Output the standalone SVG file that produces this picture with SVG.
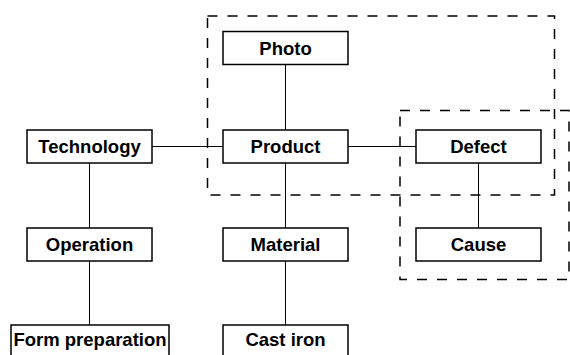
<svg xmlns="http://www.w3.org/2000/svg" width="570" height="355" viewBox="0 0 570 355">
  <style>
    .box { fill: #ffffff; stroke: #000000; stroke-width: 1.5; }
    .label { font-family: "Liberation Sans", Arial, sans-serif; font-size: 18.5px; font-weight: bold; fill: #000000; text-anchor: middle; }
    .link { stroke: #000000; stroke-width: 1; fill: none; }
    .group { stroke: #000000; stroke-width: 1.5; fill: none; stroke-dasharray: 10 10; }
  </style>
  <rect width="570" height="355" fill="#ffffff"/>

  <!-- grouping frames -->
  <g id="frames">
    <rect class="group" x="207.5" y="16" width="347" height="179"/>
    <rect class="group" x="400" y="110.5" width="169" height="169"/>
  </g>

  <!-- connectors -->
  <g id="connectors">
    <line class="link" x1="152" y1="146.5" x2="223" y2="146.5"/>
    <line class="link" x1="348" y1="146.5" x2="416" y2="146.5"/>
    <line class="link" x1="285.5" y1="64" x2="285.5" y2="130"/>
    <line class="link" x1="285.5" y1="163" x2="285.5" y2="228"/>
    <line class="link" x1="285.5" y1="261" x2="285.5" y2="325"/>
    <line class="link" x1="89.5" y1="163" x2="89.5" y2="228"/>
    <line class="link" x1="89.5" y1="261" x2="89.5" y2="325"/>
    <line class="link" x1="478.5" y1="163" x2="478.5" y2="228"/>
  </g>

  <g id="photo">
    <rect class="box" x="223" y="31.5" width="125" height="33"/>
    <text class="label" x="285.5" y="54.5">Photo</text>
  </g>
  <g id="technology">
    <rect class="box" x="27" y="130" width="125" height="33"/>
    <text class="label" x="89.5" y="153">Technology</text>
  </g>
  <g id="product">
    <rect class="box" x="223" y="130" width="125" height="33"/>
    <text class="label" x="285.5" y="153">Product</text>
  </g>
  <g id="defect">
    <rect class="box" x="416" y="130" width="125" height="33"/>
    <text class="label" x="478.5" y="153">Defect</text>
  </g>
  <g id="operation">
    <rect class="box" x="27" y="228" width="125" height="33"/>
    <text class="label" x="89.5" y="251">Operation</text>
  </g>
  <g id="material">
    <rect class="box" x="223" y="228" width="125" height="33"/>
    <text class="label" x="285.5" y="251">Material</text>
  </g>
  <g id="cause">
    <rect class="box" x="416" y="228" width="125" height="33"/>
    <text class="label" x="478.5" y="251">Cause</text>
  </g>
  <g id="form-preparation">
    <rect class="box" x="11" y="325" width="158" height="40"/>
    <text class="label" x="90" y="346">Form preparation</text>
  </g>
  <g id="cast-iron">
    <rect class="box" x="223" y="325" width="125" height="40"/>
    <text class="label" x="285.5" y="346">Cast iron</text>
  </g>
</svg>
